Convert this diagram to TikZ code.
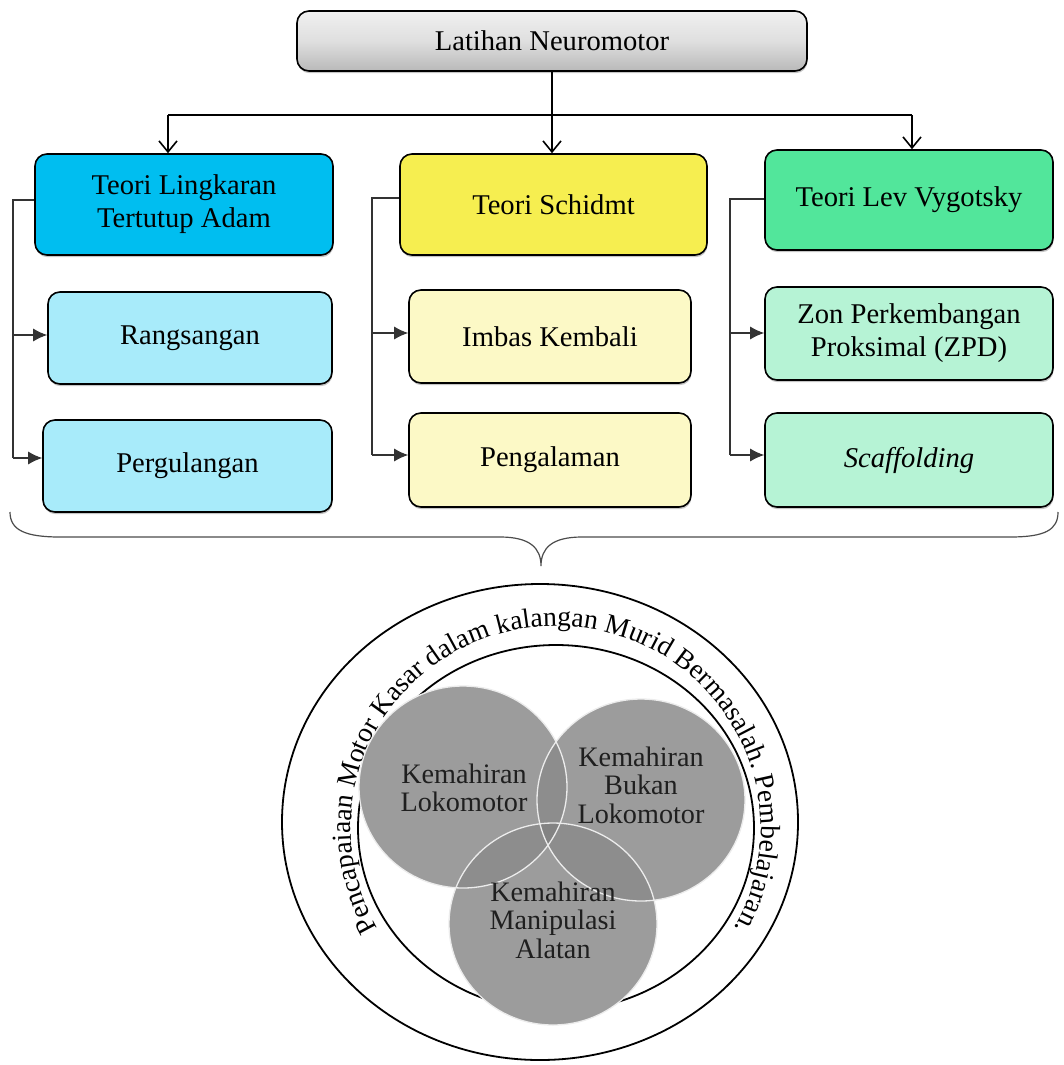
\documentclass[tikz,border=0pt]{standalone}
\usepackage{fontspec}
\setmainfont{Liberation Serif}
\usetikzlibrary{arrows.meta,decorations.text,shadows}
\definecolor{cyanA}{HTML}{00BEF0}
\definecolor{cyanB}{HTML}{A8EBFA}
\definecolor{yelA}{HTML}{F6EE50}
\definecolor{yelB}{HTML}{FCF9C6}
\definecolor{grnA}{HTML}{52E69B}
\definecolor{grnB}{HTML}{B6F3D5}
\definecolor{vennA}{HTML}{9C9C9C}
\definecolor{vennB}{HTML}{8D8D8D}
\definecolor{vennC}{HTML}{838383}
\newcommand{\boxfont}{\fontsize{28.6}{33}\selectfont}
\newcommand{\vennfont}{\fontsize{28.2}{28.5}\selectfont}
\newcommand{\ringfont}{\fontsize{27.6}{27.6}\selectfont}
\begin{document}
\begin{tikzpicture}[x=1pt,y=1pt,
  box/.style={draw=black, line width=1.6pt, rounded corners=12pt, align=center,
    inner sep=0pt, font=\boxfont, text=black,
    drop shadow={shadow xshift=0.6pt,shadow yshift=-2.2pt,opacity=0.45}},
  mainline/.style={line width=1.6pt, black},
  mainarr/.style={mainline, -{Straight Barb[length=11pt,width=18pt]}},
  brk/.style={line width=1.1pt, black!80},
  brkarr/.style={brk, -{Latex[length=14pt,width=13pt]}},
  vr/.style={x radius=104, y radius=101},
  vline/.style={draw=white!85!gray, line width=1.3pt},
  vtext/.style={align=center, font=\vennfont, text=black!88, inner sep=0pt},
  ring/.style={line width=1.8pt, black},
  brace/.style={line width=1.2pt, black!70}
]
\useasboundingbox (0,0) rectangle (1063,-1065);
\fill[white] (0,0) rectangle (1063,-1065);

% top box
\node[box, minimum width=510pt, minimum height=60pt,
  top color=gray!12, bottom color=gray!55, middle color=gray!25] (top) at (552,-41) {Latihan Neuromotor};

% column 1
\node[box, fill=cyanA, minimum width=298pt, minimum height=101pt] (t1) at (184,-204.5) {Teori Lingkaran\\Tertutup Adam};
\node[box, fill=cyanB, minimum width=284pt, minimum height=92pt] (r1) at (190,-338) {Rangsangan};
\node[box, fill=cyanB, minimum width=289pt, minimum height=92pt] (p1) at (187.5,-466) {Pergulangan};
% column 2
\node[box, fill=yelA, minimum width=307pt, minimum height=101pt] (t2) at (553.5,-204.5) {Teori Schidmt};
\node[box, fill=yelB, minimum width=282pt, minimum height=93pt] (i2) at (550,-336.5) {Imbas Kembali};
\node[box, fill=yelB, minimum width=282pt, minimum height=94pt] (g2) at (550,-460) {Pengalaman};
% column 3
\node[box, fill=grnA, minimum width=288pt, minimum height=100pt] (t3) at (909,-200) {Teori Lev Vygotsky};
\node[box, fill=grnB, minimum width=288pt, minimum height=93pt] (z3) at (909,-333.5) {Zon Perkembangan\\Proksimal (ZPD)};
\node[box, fill=grnB, minimum width=288pt, minimum height=94pt] (s3) at (909,-460) {\textit{Scaffolding}};

% main connectors
\coordinate (jL) at (168,-115);
\coordinate (jR) at (912,-115);
\draw[mainline] (jL) -- (jR);
\draw[mainarr] (top.south) -- (top.south |- t2.north);
\draw[mainarr] (jL) -- (jL |- t1.north);
\draw[mainarr] (jR) -- (jR |- t3.north);

% side brackets
\coordinate (bL1) at (13,-200);  \coordinate (bL2) at (13,-335);  \coordinate (bL3) at (13,-458);
\draw[brk] (bL1 -| t1.west) -- (bL1) -- (bL3);
\draw[brkarr] (bL2) -- (bL2 -| r1.west);
\draw[brkarr] (bL3) -- (bL3 -| p1.west);
\coordinate (bM1) at (372,-198); \coordinate (bM2) at (372,-333); \coordinate (bM3) at (372,-455);
\draw[brk] (bM1 -| t2.west) -- (bM1) -- (bM3);
\draw[brkarr] (bM2) -- (bM2 -| i2.west);
\draw[brkarr] (bM3) -- (bM3 -| g2.west);
\coordinate (bR1) at (730,-199); \coordinate (bR2) at (730,-333); \coordinate (bR3) at (730,-455);
\draw[brk] (bR1 -| t3.west) -- (bR1) -- (bR3);
\draw[brkarr] (bR2) -- (bR2 -| z3.west);
\draw[brkarr] (bR3) -- (bR3 -| s3.west);

% curly brace
\draw[brace] (10,-512) .. controls (10,-530) and (25,-537) .. (60,-537) -- (500,-537)
  .. controls (530,-537) and (541,-548) .. (541,-566)
  .. controls (541,-548) and (552,-537) .. (582,-537) -- (1010,-537)
  .. controls (1045,-537) and (1058,-530) .. (1058,-512);

% rings
\draw[ring] (540,-822) ellipse [x radius=258, y radius=238];
\draw[ring] (556,-828) ellipse [x radius=198, y radius=183];
\path[shift={(556,-828)}, decorate, decoration={text along path,
   text={|\ringfont|Pencapaiaan Motor Kasar dalam kalangan Murid Bermasalah. Pembelajaran.},
   text align=center}]
   (220:205 and 202) arc [start angle=220, end angle=-40, x radius=205, y radius=202];

% venn
\coordinate (vA) at (463,-787);
\coordinate (vB) at (641,-800);
\coordinate (vC) at (553,-924);
\fill[vennA] (vA) ellipse [vr];
\fill[vennA] (vB) ellipse [vr];
\fill[vennA] (vC) ellipse [vr];
\begin{scope}
  \clip (vA) ellipse [vr];
  \fill[vennB] (vB) ellipse [vr];
  \fill[vennB] (vC) ellipse [vr];
\end{scope}
\begin{scope}
  \clip (vB) ellipse [vr];
  \fill[vennB] (vC) ellipse [vr];
\end{scope}
\begin{scope}
  \clip (vA) ellipse [vr];
  \clip (vB) ellipse [vr];
  \fill[vennC] (vC) ellipse [vr];
\end{scope}
\path[vline] (vA) ellipse [vr];
\path[vline] (vB) ellipse [vr];
\path[vline] (vC) ellipse [vr];

\node[vtext] (tA) at (464,-788) {Kemahiran\\Lokomotor};
\node[vtext] (tB) at (641,-785) {Kemahiran\\Bukan\\Lokomotor};
\node[vtext] (tC) at (553,-920) {Kemahiran\\Manipulasi\\Alatan};
\end{tikzpicture}
\end{document}
